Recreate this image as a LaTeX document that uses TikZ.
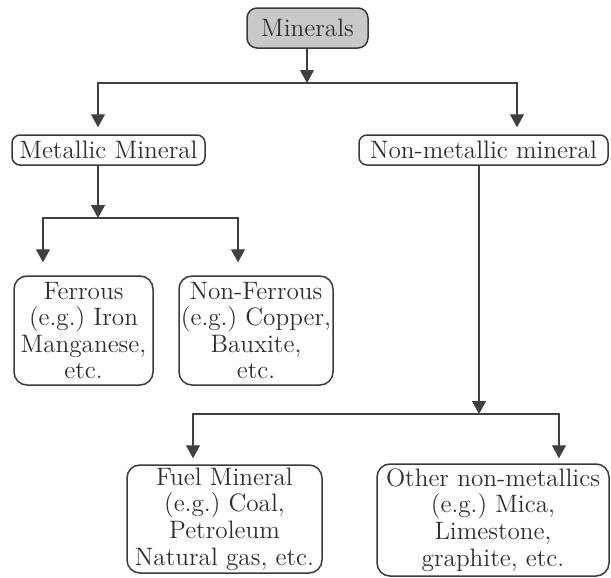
\documentclass[tikz,border=0pt]{standalone}
\usetikzlibrary{arrows.meta}
\definecolor{boxc}{HTML}{3A3A3A}
\definecolor{linec}{HTML}{404040}
\definecolor{txt}{HTML}{2E2E2E}
\definecolor{minfill}{HTML}{C8C8C8}
\begin{document}
\frenchspacing
\begin{tikzpicture}[x=0.5pt,y=-0.5pt,
  font=\fontsize{12.6}{13.3}\selectfont,
  box/.style={draw=boxc, line width=0.75pt, rounded corners=4pt, text=txt, inner sep=0pt, align=center},
  bigbox/.style={box, rounded corners=6.5pt},
  ln/.style={draw=linec, line width=0.7pt},
  arr/.style={ln, -{Triangle[width=7pt,length=6.5pt]}}]
\useasboundingbox (0,0) rectangle (611,578);

% nodes
\node[box, fill=minfill, minimum width=60.5pt, minimum height=20pt, rounded corners=5pt] (min) at (307.5,28) {Minerals};
\node[box, minimum width=96.5pt, minimum height=15pt] (met) at (108.5,150) {Metallic Mineral};
\node[box, minimum width=124.5pt, minimum height=15pt] (non) at (483.5,150) {Non-metallic mineral};
\node[bigbox, minimum width=69.5pt, minimum height=54.5pt] (fer) at (83.5,330.5) {Ferrous\\(e.g.) Iron\\Manganese,\\etc.};
\node[bigbox, minimum width=77pt, minimum height=54.5pt] (nfe) at (256,330.5) {Non-Ferrous\\(e.g.) Copper,\\Bauxite,\\etc.};
\node[bigbox, minimum width=97.5pt, minimum height=54pt] (fuel) at (224.5,519) {Fuel Mineral\\(e.g.) Coal,\\Petroleum\\Natural gas, etc.};
\node[bigbox, minimum width=116pt, minimum height=56pt] (oth) at (493,520) {Other non-metallics\\(e.g.) Mica,\\Limestone,\\graphite, etc.};

% branch points
\coordinate (b1) at (307,83);
\coordinate (b2) at (98,218);
\coordinate (b3) at (479,414);

% connectors
\draw[arr] (min.south -| b1) -- (b1);
\draw[arr, shorten >=3.5pt] (b1) -| ([xshift=-5.25pt]met.north);
\draw[arr, shorten >=3.5pt] (b1) -| ([xshift=16.75pt]non.north);

\draw[arr] ([xshift=-5.25pt]met.south) -- (b2);
\draw[arr, shorten >=6.5pt] (b2) -| ([xshift=-20.25pt]fer.north);
\draw[arr, shorten >=6.5pt] (b2) -| ([xshift=-9pt]nfe.north);

\draw[arr] ([xshift=-2.25pt]non.south) -- (b3);
\draw[arr, shorten >=3pt] (b3) -| ([xshift=-15.75pt]fuel.north);
\draw[arr, shorten >=2.5pt] (b3) -| ([xshift=33pt]oth.north);
\end{tikzpicture}
\end{document}
